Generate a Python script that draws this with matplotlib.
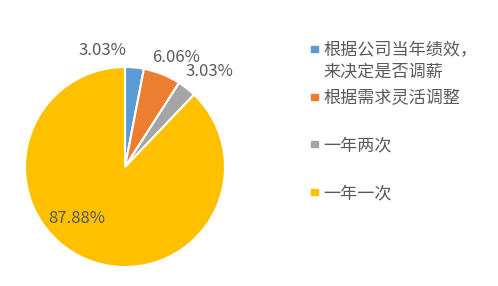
import matplotlib
matplotlib.use("Agg")
import matplotlib.pyplot as plt
from matplotlib.patches import Rectangle
import numpy as np

plt.rcParams['font.family'] = ['Noto Sans CJK SC', 'DejaVu Sans']

categories = ["根据公司当年绩效，\n来决定是否调薪", "根据需求灵活调整", "一年两次", "一年一次"]
values = [3.03, 6.06, 3.03, 87.88]
pct_labels = ["3.03%", "6.06%", "3.03%", "87.88%"]
colors = ["#5B9BD5", "#ED7D31", "#A5A5A5", "#FFC000"]
# label placement (radius, angle offset in degrees relative to wedge middle)
label_pos = [(1.19, 16.6), (1.21, -3.1), (1.27, -3.3), (0.70, -21.2)]

W, H = 498, 286
fig = plt.figure(figsize=(W / 100, H / 100), dpi=100)
cx, cy, r = 125, 167, 100
ax = fig.add_axes([(cx - r) / W, (H - cy - r) / H, 2 * r / W, 2 * r / H])
wedges, _ = ax.pie(values, colors=colors, startangle=90, counterclock=False,
                   radius=1.0, wedgeprops=dict(edgecolor="white", linewidth=1.5))
ax.set_xlim(-1, 1)
ax.set_ylim(-1, 1)
ax.set_aspect("equal")
ax.axis("off")

for w, txt, (rad, off) in zip(wedges, pct_labels, label_pos):
    mid = np.deg2rad((w.theta1 + w.theta2) / 2 + off)
    ax.text(rad * np.cos(mid), rad * np.sin(mid), txt, ha="center", va="center",
            fontsize=12, color="#595959")

# legend drawn manually
leg_y = [50, 98, 145, 193]
line_gap = 22
sq = 6.5
for y, lab, c in zip(leg_y, categories, colors):
    fig.patches.append(Rectangle((311 / W, 1 - (y - 1 + sq / 2) / H), sq / W, sq / H,
                                 transform=fig.transFigure, color=c))
    for i, line in enumerate(lab.split("\n")):
        fig.text(323 / W, 1 - (y + i * line_gap) / H, line, ha="left", va="center",
                 fontsize=12.3, color="#595959")

fig.savefig("out.png", dpi=100)
